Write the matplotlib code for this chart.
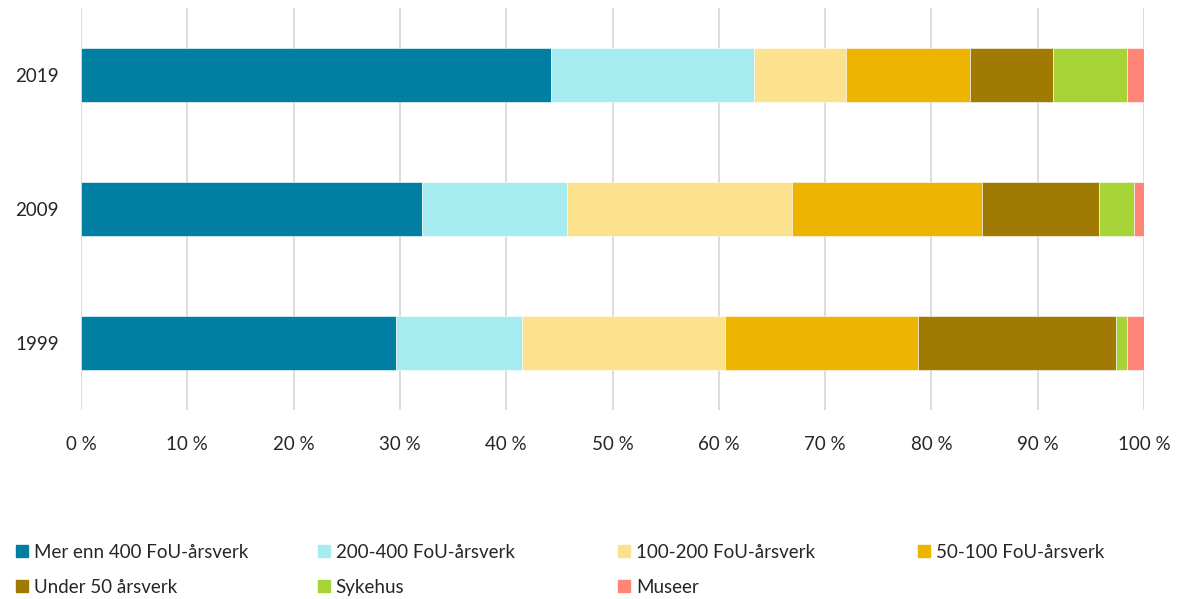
import matplotlib
matplotlib.use("Agg")
import matplotlib.pyplot as plt
from matplotlib.lines import Line2D
import numpy as np

plt.rcParams["font.family"] = ["Lato", "DejaVu Sans"]

years = ["1999", "2009", "2019"]
series = [
    "Mer enn 400 FoU-årsverk",
    "200-400 FoU-årsverk",
    "100-200 FoU-årsverk",
    "50-100 FoU-årsverk",
    "Under 50 årsverk",
    "Sykehus",
    "Museer",
]
# share in percent, one list per series, ordered as years
mer_enn_400 = [29.6, 32.1, 44.2]
fou_200_400 = [11.9, 13.6, 19.1]
fou_100_200 = [19.1, 21.2, 8.7]
fou_50_100 = [18.1, 17.9, 11.6]
under_50 = [18.7, 11.0, 7.8]
sykehus = [1.0, 3.3, 7.0]
museer = [1.6, 0.9, 1.6]
values = [mer_enn_400, fou_200_400, fou_100_200, fou_50_100, under_50, sykehus, museer]
colors = ["#007FA3", "#A6EBF0", "#FCE28F", "#EEB500", "#A17A03", "#A6D336", "#FF8676"]
xticks = [f"{v} %" for v in range(0, 101, 10)]

text_color = "#262626"
fs = 13.5

fig = plt.figure(figsize=(11.81, 5.99), dpi=100)
ax = fig.add_axes([81 / 1181, 1 - 410 / 599, (1144 - 81) / 1181, (410 - 8) / 599])

y = np.arange(len(years))
left = np.zeros(len(years))
for name, vals, c in zip(series, values, colors):
    vals = np.array(vals)
    ax.barh(y, vals, left=left, height=0.4, color=c, edgecolor="white",
            linewidth=0.4, label=name, zorder=3)
    left += vals

ax.set_xlim(0, 100)
ax.set_ylim(-0.5, 2.5)
ax.set_xticks(range(0, 101, 10))
ax.set_xticklabels(xticks)
ax.set_yticks(y)
ax.set_yticklabels(years)
ax.tick_params(axis="both", length=0, labelsize=fs, colors=text_color)
ax.tick_params(axis="x", pad=19)
ax.tick_params(axis="y", pad=16)
ax.grid(axis="x", color="#D9D9D9", linewidth=1.3, zorder=0)
for s in ax.spines.values():
    s.set_visible(False)

# legend: four columns of equal width, filled row by row
col_x = [15, 317, 617, 917]
for i, x0 in enumerate(col_x):
    handles = []
    for j in range(i, len(series), 4):
        handles.append(Line2D([], [], marker="s", linestyle="none", markersize=9,
                              markerfacecolor=colors[j], markeredgecolor=colors[j],
                              label=series[j]))
    fig.legend(handles=handles, loc="upper left", bbox_to_anchor=(x0 / 1181, 1 - 544 / 599),
               frameon=False, fontsize=fs, handlelength=0.7, handletextpad=0.3,
               labelspacing=0.95, borderaxespad=0, borderpad=0, labelcolor=text_color)

fig.savefig("out.png", dpi=100)
